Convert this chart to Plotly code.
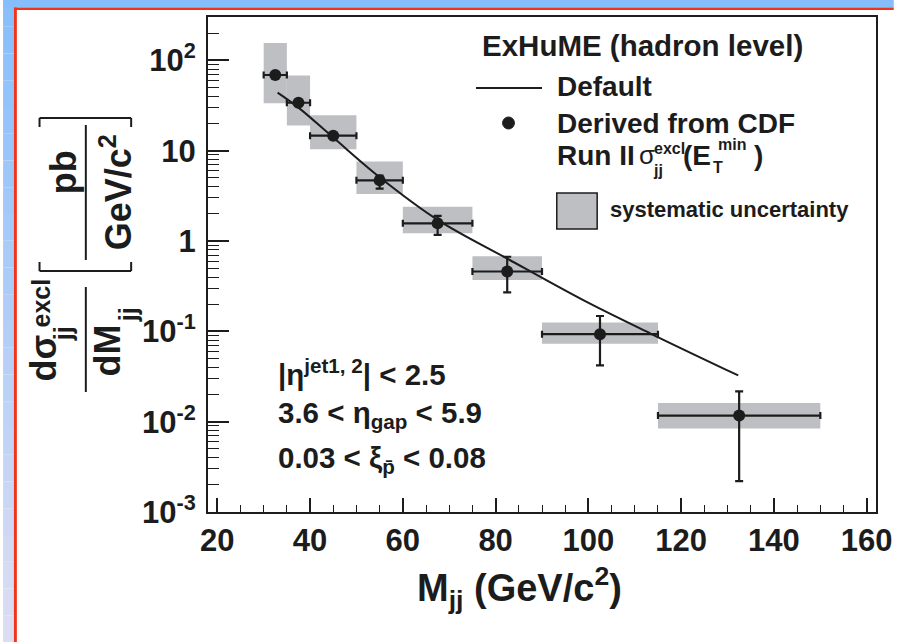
import plotly.graph_objects as go

# ---------------- data ----------------
bin_lo = [30, 35, 40, 50, 60, 75, 90, 115]
bin_hi = [35, 40, 50, 60, 75, 90, 115, 150]
m_center = [32.5, 37.5, 45, 55, 67.5, 82.5, 102.5, 132.5]
xsec = [69, 34, 14.7, 4.7, 1.57, 0.46, 0.093, 0.0117]
stat_hi = [72, 35.5, 15.4, 5.3, 1.9, 0.67, 0.148, 0.0217]
stat_lo = [66, 32.5, 14.0, 3.8, 1.17, 0.27, 0.042, 0.0022]
syst_lo = [33.6, 19, 10.4, 3.33, 1.22, 0.37, 0.073, 0.0084]
syst_hi = [156, 68, 24.7, 7.6, 2.4, 0.68, 0.125, 0.0161]

theory_m = [33, 37.5, 45, 55, 67.5, 82.5, 99, 113.5, 132.3]
theory_xsec = [44, 30, 14, 5.1, 1.72, 0.64, 0.22, 0.094, 0.0325]

y_tickvals = [1e-3, 1e-2, 1e-1, 1, 10, 100]
y_ticktext = ["10<sup>-3</sup>", "10<sup>-2</sup>", "10<sup>-1</sup>", "1", "10", "10<sup>2</sup>"]

# ---------------- layout geometry ----------------
FIG_W, FIG_H = 904, 642
L, T, W, H = 208, 17, 678, 495
FONT = "Liberation Sans"
INK = "#1c1c1c"
GRAY = "#bdbfc3"


def px(x):
    return (x - L) / W


def py(y):
    return (T + H - y) / H


half_w = [(h - l) / 2 for l, h in zip(bin_lo, bin_hi)]
err_up = [h - v for h, v in zip(stat_hi, xsec)]
err_dn = [v - l for l, v in zip(stat_lo, xsec)]

fig = go.Figure()

fig.add_trace(go.Bar(
    x=m_center,
    y=[h - l for l, h in zip(syst_lo, syst_hi)],
    base=syst_lo,
    width=[h - l for l, h in zip(bin_lo, bin_hi)],
    marker=dict(color=GRAY, line=dict(width=0)),
    showlegend=False,
    hoverinfo="skip",
))

fig.add_trace(go.Scatter(
    x=theory_m, y=theory_xsec, mode="lines",
    line=dict(color=INK, width=2, shape="spline", smoothing=1.0),
    showlegend=False,
))

fig.add_trace(go.Scatter(
    x=m_center, y=xsec, mode="markers",
    marker=dict(color=INK, size=12),
    error_x=dict(type="data", array=half_w, color=INK, thickness=2.2, width=3.5),
    error_y=dict(type="data", symmetric=False, array=err_up, arrayminus=err_dn,
                 color=INK, thickness=2.2, width=4),
    showlegend=False,
))

shapes = []
# ---- background (blue strips, red border) ----
top_rgb = (134, 190, 252)
bot_rgb = (222, 222, 242)
n = 24
for i in range(n):
    y0 = FIG_H * i / n
    y1 = FIG_H * (i + 1) / n
    f = (i + 0.5) / n
    c = tuple(int(round(a + (b - a) * f)) for a, b in zip(top_rgb, bot_rgb))
    shapes.append(dict(type="rect", xref="paper", yref="paper",
                       x0=px(0), x1=px(11), y0=py(y1), y1=py(y0),
                       fillcolor="rgb(%d,%d,%d)" % c, line=dict(width=0), layer="below"))
shapes.append(dict(type="rect", xref="paper", yref="paper",
                   x0=px(0), x1=px(FIG_W), y0=py(7.5), y1=py(0),
                   fillcolor="rgb(134,190,252)", line=dict(width=0), layer="below"))
shapes.append(dict(type="rect", xref="paper", yref="paper",
                   x0=px(11), x1=px(FIG_W), y0=py(10), y1=py(7.5),
                   fillcolor="#f0341a", line=dict(width=0), layer="below"))
shapes.append(dict(type="rect", xref="paper", yref="paper",
                   x0=px(11), x1=px(14), y0=py(FIG_H), y1=py(7.5),
                   fillcolor="#f0341a", line=dict(width=0), layer="below"))


# ---- y-title fraction bars and brackets ----
def seg(x0, y0, x1, y1, w=2):
    shapes.append(dict(type="line", xref="paper", yref="paper",
                       x0=px(x0), y0=py(y0), x1=px(x1), y1=py(y1),
                       line=dict(color=INK, width=w)))


seg(84, 287, 84, 392)           # main fraction bar
seg(84, 125, 84, 260)           # pb / GeV fraction bar
seg(37, 271, 130, 271)          # lower bracket
seg(37, 271, 37, 262)
seg(130, 271, 130, 262)
seg(37, 118, 130, 118)          # upper bracket
seg(37, 118, 37, 127)
seg(130, 118, 130, 127)

# ---- legend symbols ----
seg(480, 88, 547, 88, w=2)
shapes.append(dict(type="circle", xref="paper", yref="paper",
                   x0=px(507), x1=px(519), y0=py(129), y1=py(117),
                   fillcolor=INK, line=dict(color=INK, width=1)))
shapes.append(dict(type="rect", xref="paper", yref="paper",
                   x0=px(562), x1=px(603), y0=py(229), y1=py(193),
                   fillcolor=GRAY, line=dict(color=INK, width=1.5)))

ann = []


def text(x, y, s, size, xanchor="left", angle=0, yanchor="middle", bold=True):
    ann.append(dict(x=px(x), y=py(y), xref="paper", yref="paper", text=s,
                    showarrow=False, xanchor=xanchor, yanchor=yanchor,
                    textangle=angle,
                    font=dict(family=FONT, size=size, color=INK,
                              weight="bold" if bold else "normal")))


# legend text
text(484, 45, "ExHuME (hadron level)", 29.5)
text(560, 86, "Default", 28)
text(560, 124, "Derived from CDF", 28)
text(560, 155, "Run II", 28)
text(643, 155, "σ", 26, bold=False)
text(659, 148, "excl", 16)
text(658, 170, "jj", 16)
text(688, 155, "(E", 28)
text(724, 144, "min", 16)
text(719, 168, "T", 16)
text(760, 155, ")", 28)
text(614, 209, "systematic uncertainty", 22)

# cuts
text(277, 372, "|η<sup>jet1, 2</sup>| < 2.5", 29.5)
text(277, 414, "3.6 < η<sub>gap</sub> < 5.9", 29.5)
text(277, 459, "0.03 < ξ<sub>p̄</sub> < 0.08", 29.5)

# x-axis title
text(524, 588, "M<sub>jj</sub> (GeV/c<sup>2</sup>)", 38, xanchor="center")

# y-axis title pieces (rotated)
text(41, 358, "dσ", 36, xanchor="center", angle=-90)
text(39, 303, "excl", 25, xanchor="center", angle=-90)
text(61, 334, "jj", 25, xanchor="center", angle=-90)
text(105, 351, "dM", 36, xanchor="center", angle=-90)
text(127, 315, "jj", 25, xanchor="center", angle=-90)
text(61, 172, "pb", 36, xanchor="center", angle=-90)
text(115, 192, "GeV/c<sup>2</sup>", 36, xanchor="center", angle=-90)

minor_y = [k * 10 ** e for e in range(-3, 3) for k in range(2, 10) if k * 10 ** e < 300]

fig.update_layout(
    width=FIG_W, height=FIG_H,
    margin=dict(l=L, r=FIG_W - L - W, t=T, b=FIG_H - T - H, pad=0),
    paper_bgcolor="white", plot_bgcolor="white",
    barmode="overlay",
    showlegend=False,
    shapes=shapes,
    annotations=ann,
    font=dict(family=FONT, color=INK),
    xaxis=dict(
        range=[18, 162], showgrid=False, zeroline=False,
        showline=True, linecolor=INK, linewidth=2, mirror=True,
        ticks="inside", ticklen=14, tickwidth=1.5, tickcolor=INK,
        tickmode="linear", tick0=20, dtick=20,
        minor=dict(ticks="inside", ticklen=7, tickwidth=1.2, tickcolor=INK,
                   dtick=5, tick0=20, showgrid=False),
        tickfont=dict(family=FONT, size=31, color=INK, weight="bold"),
    ),
    yaxis=dict(
        type="log", range=[-3, 2.481], showgrid=False, zeroline=False,
        showline=True, linecolor=INK, linewidth=2, mirror=True,
        ticks="inside", ticklen=21, tickwidth=1.5, tickcolor=INK,
        tickmode="array", tickvals=y_tickvals, ticktext=y_ticktext,
        minor=dict(ticks="inside", ticklen=11, tickwidth=1.2, tickcolor=INK,
                   tickmode="array", tickvals=minor_y, showgrid=False),
        tickfont=dict(family=FONT, size=31, color=INK, weight="bold"),
        ticklabelstandoff=4,
    ),
)

fig.write_html("out.html",
               config={"displayModeBar": False},
               post_script="document.body.style.margin='0';document.body.style.overflow='hidden';")
